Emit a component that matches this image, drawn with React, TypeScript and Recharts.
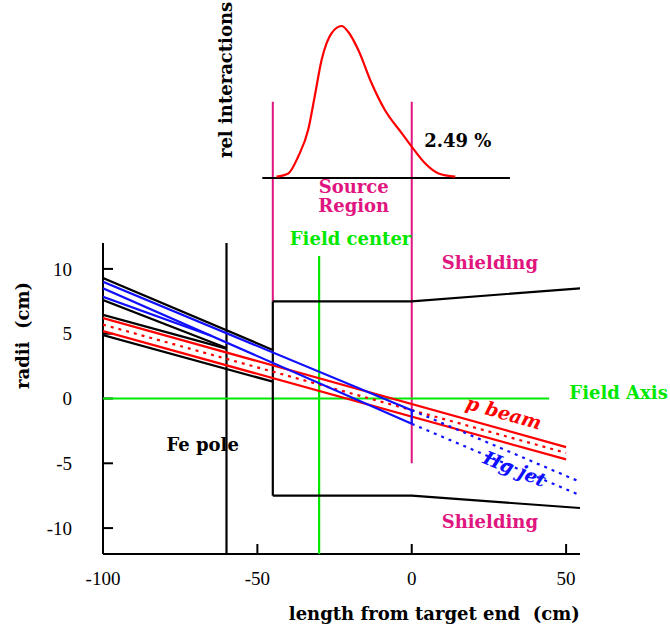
import React from "react";
import {
  ComposedChart,
  Line,
  XAxis,
  YAxis,
  ReferenceLine,
  ReferenceDot,
} from "recharts";

const W = 670;
const H = 630;
const SERIF = "'DejaVu Serif', serif";
const TICK_FONT = "'Liberation Serif', serif";

const RED = "#ff0000";
const BLUE = "#1010ff";
const GREEN = "#00e800";
const MAGENTA = "#e0157f";

// axes
const xDomain = [-100, 54.5];
const yDomain = [-12, 12];
const xTicks = [-100, -50, 0, 50];
const yTicks = [-10, -5, 0, 5, 10];

// black: nozzle and beam pipe edges (x cm, r cm)
const nozzleUpper = [{ x: -100, y: 9.3 }, { x: -45, y: 3.75 }];
const nozzleLower = [{ x: -100, y: 7.6 }, { x: -60, y: 3.9 }];
const pipeUpper = [{ x: -100, y: 6.45 }, { x: -60, y: 3.85 }];
const pipeLower = [{ x: -100, y: 4.9 }, { x: -45, y: 1.3 }];

// Hg jet
const jetTop = [{ x: -100, y: 9.0 }, { x: 0, y: -0.9 }];
const jetMid = [{ x: -100, y: 8.5 }, { x: 0, y: -1.95 }];
const jetLow = [{ x: -100, y: 7.85 }, { x: -65, y: 4.84 }];
const jetEnd = [{ x: 0, y: -0.9 }, { x: 0, y: -1.95 }];
const jetTopOut = [{ x: 0, y: -0.9 }, { x: 54.5, y: -6.43 }];
const jetLowOut = [{ x: 0, y: -1.95 }, { x: 54.5, y: -7.46 }];

// proton beam
const beamTop = [{ x: -100, y: 6.2 }, { x: 50, y: -3.75 }];
const beamCenter = [{ x: -100, y: 5.7 }, { x: 50, y: -4.2 }];
const beamLow = [{ x: -100, y: 5.2 }, { x: 50, y: -4.7 }];

// shielding outline
const shieldTop = [{ x: -45, y: 7.5 }, { x: 0, y: 7.5 }, { x: 54.5, y: 8.5 }];
const shieldBottom = [{ x: -45, y: -7.5 }, { x: 0, y: -7.5 }, { x: 54.5, y: -8.45 }];
const shieldSide = [{ x: -45, y: -7.5 }, { x: -45, y: 7.5 }];

// field axis / field center / Fe pole
const fieldAxis = [{ x: -100, y: 0 }, { x: 44.5, y: 0 }];
const fieldCenter = [{ x: -30, y: -12 }, { x: -30, y: 11 }];
const fePole = [{ x: -60, y: -12 }, { x: -60, y: 12 }];

// rel interactions along the target
const profile = [
  { x: -43.8, y: 0.009 },
  { x: -40.0, y: 0.03 },
  { x: -36.8, y: 0.14 },
  { x: -33.5, y: 0.32 },
  { x: -31.4, y: 0.54 },
  { x: -29.2, y: 0.776 },
  { x: -26.0, y: 0.952 },
  { x: -22.7, y: 1.0 },
  { x: -20.6, y: 0.962 },
  { x: -17.3, y: 0.842 },
  { x: -13.0, y: 0.623 },
  { x: -8.7, y: 0.447 },
  { x: -3.2, y: 0.294 },
  { x: 0, y: 0.206 },
  { x: 4.3, y: 0.097 },
  { x: 8.7, y: 0.03 },
  { x: 14.1, y: 0.009 },
];

// text label drawn at a reference dot
const note =
  (text: string, color: string, size = 18, angle = 0, italic = false) =>
  (props: any) => {
    const vb = props.viewBox || {};
    const x = vb.x + (vb.width || 0) / 2;
    const y = vb.y + (vb.height || 0) / 2;
    return (
      <text
        x={x}
        y={y}
        textAnchor="middle"
        dominantBaseline="central"
        fill={color}
        fontFamily={SERIF}
        fontSize={size}
        fontWeight="bold"
        fontStyle={italic ? "italic" : "normal"}
        transform={angle ? `rotate(${angle} ${x} ${y})` : undefined}
        style={{ whiteSpace: "pre" }}
      >
        {text}
      </text>
    );
  };

const seg = (data: { x: number; y: number }[], color: string, dashed = false) => (
  <Line
    data={data}
    dataKey="y"
    type="linear"
    stroke={color}
    strokeWidth={2.2}
    strokeDasharray={dashed ? "3 5" : undefined}
    dot={false}
    activeDot={false}
    isAnimationActive={false}
  />
);

const layer: React.CSSProperties = { position: "absolute", left: 0, top: 0 };

export default function App() {
  return (
    <div style={{ position: "absolute", left: 0, top: 0, width: W, height: H, background: "#fff" }}>
      {/* axes of the radii plot */}
      <div style={layer}>
        <ComposedChart width={W} height={H} margin={{ top: 243, right: 90, bottom: 0, left: 0 }}>
          <XAxis
            type="number"
            dataKey="x"
            domain={xDomain}
            ticks={xTicks}
            allowDataOverflow
            height={76}
            tickSize={-10}
            tickMargin={28}
            axisLine={{ stroke: "#000", strokeWidth: 2 }}
            tickLine={{ stroke: "#000", strokeWidth: 2 }}
            tick={{ fill: "#000", fontSize: 19, fontFamily: TICK_FONT }}
          />
          <YAxis
            type="number"
            domain={yDomain}
            ticks={yTicks}
            allowDataOverflow
            width={103}
            tickSize={-10}
            tickMargin={41}
            axisLine={{ stroke: "#000", strokeWidth: 2 }}
            tickLine={{ stroke: "#000", strokeWidth: 2 }}
            tick={{ fill: "#000", fontSize: 19, fontFamily: TICK_FONT }}
          />
        </ComposedChart>
      </div>

      {/* radii plot contents, drawn over the axes */}
      <div style={layer}>
        <ComposedChart width={W} height={H} margin={{ top: 243, right: 90, bottom: 76, left: 103 }}>
          <XAxis type="number" dataKey="x" domain={xDomain} allowDataOverflow hide height={0} />
          <YAxis type="number" domain={yDomain} allowDataOverflow hide width={0} />

          {/* source region limits */}
          <ReferenceLine segment={[{ x: -45, y: 7.5 }, { x: -45, y: 22.9 }]} stroke={MAGENTA} strokeWidth={2} ifOverflow="visible" />
          <ReferenceLine segment={[{ x: 0, y: -5 }, { x: 0, y: 22.9 }]} stroke={MAGENTA} strokeWidth={2} ifOverflow="visible" />

          {seg(fePole, "#000")}
          {seg(fieldCenter, GREEN)}
          {seg(fieldAxis, GREEN)}

          {seg(shieldTop, "#000")}
          {seg(shieldBottom, "#000")}
          {seg(shieldSide, "#000")}

          {seg(nozzleUpper, "#000")}
          {seg(nozzleLower, "#000")}
          {seg(pipeUpper, "#000")}
          {seg(pipeLower, "#000")}

          {seg(beamTop, RED)}
          {seg(beamCenter, RED, true)}
          {seg(beamLow, RED)}

          {seg(jetTop, BLUE)}
          {seg(jetMid, BLUE)}
          {seg(jetLow, BLUE)}
          {seg(jetEnd, BLUE)}
          {seg(jetTopOut, BLUE, true)}
          {seg(jetLowOut, BLUE, true)}

          <ReferenceDot x={-19.8} y={12.36} r={0} stroke="none" fill="none" ifOverflow="visible" label={note("Field center", GREEN)} />
          <ReferenceDot x={25.3} y={10.5} r={0} stroke="none" fill="none" ifOverflow="visible" label={note("Shielding", MAGENTA)} />
          <ReferenceDot x={25.3} y={-9.5} r={0} stroke="none" fill="none" ifOverflow="visible" label={note("Shielding", MAGENTA)} />
          <ReferenceDot x={67} y={0.46} r={0} stroke="none" fill="none" ifOverflow="visible" label={note("Field Axis", GREEN)} />
          <ReferenceDot x={-67.7} y={-3.55} r={0} stroke="none" fill="none" ifOverflow="visible" label={note("Fe pole", "#000")} />
          <ReferenceDot x={29.9} y={-1.08} r={0} stroke="none" fill="none" ifOverflow="visible" label={note("p beam", RED, 19, 16, true)} />
          <ReferenceDot x={33.4} y={-5.4} r={0} stroke="none" fill="none" ifOverflow="visible" label={note("Hg jet", BLUE, 19, 22, true)} />
          <ReferenceDot x={-126} y={4.86} r={0} stroke="none" fill="none" ifOverflow="visible" label={note("radii  (cm)", "#000", 18, -90)} />
          <ReferenceDot x={7.3} y={-16.6} r={0} stroke="none" fill="none" ifOverflow="visible" label={note("length from target end  (cm)", "#000", 18)} />
        </ComposedChart>
      </div>

      {/* rel interactions profile, same x scale */}
      <div style={layer}>
        <ComposedChart width={W} height={H} margin={{ top: 26, right: 90, bottom: 452, left: 103 }}>
          <XAxis type="number" dataKey="x" domain={xDomain} allowDataOverflow hide height={0} />
          <YAxis type="number" domain={[0, 1]} hide width={0} />
          <ReferenceLine segment={[{ x: -48.4, y: 0 }, { x: 31.8, y: 0 }]} stroke="#000" strokeWidth={2} ifOverflow="visible" />
          <Line
            data={profile}
            dataKey="y"
            type="monotone"
            stroke={RED}
            strokeWidth={2.2}
            dot={false}
            activeDot={false}
            isAnimationActive={false}
          />
          <ReferenceDot x={14.9} y={0.25} r={0} stroke="none" fill="none" ifOverflow="visible" label={note("2.49 %", "#000")} />
          <ReferenceDot x={-18.8} y={-0.059} r={0} stroke="none" fill="none" ifOverflow="visible" label={note("Source", MAGENTA)} />
          <ReferenceDot x={-18.8} y={-0.184} r={0} stroke="none" fill="none" ifOverflow="visible" label={note("Region", MAGENTA)} />
          <ReferenceDot x={-60.2} y={0.645} r={0} stroke="none" fill="none" ifOverflow="visible" label={note("rel interactions", "#000", 18, -90)} />
        </ComposedChart>
      </div>
    </div>
  );
}
